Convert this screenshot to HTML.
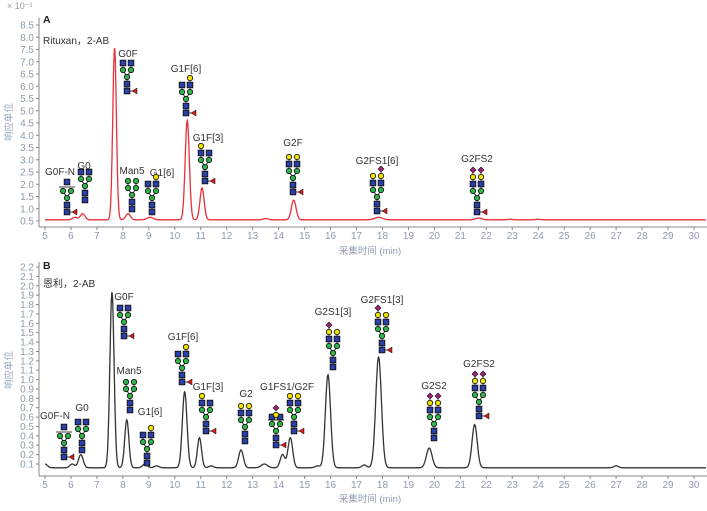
<!DOCTYPE html><html><head><meta charset="utf-8"><style>
body{margin:0;background:#fff;width:707px;height:511px;overflow:hidden}
svg{display:block;font-family:"Liberation Sans","Noto Sans CJK SC",sans-serif}
</style></head><body>
<svg id="s" width="707" height="511" xmlns="http://www.w3.org/2000/svg"></svg>
<script>
var S=document.getElementById('s'),h='';
function X(m){return 45+(m-5)*25.96;}
function txt(x,y,t,o){o=o||{};h+='<text x="'+x+'" y="'+y+'" font-size="'+(o.fs||9.5)+'" fill="'+(o.c||'#444')+'" text-anchor="'+(o.a||'middle')+'"'+(o.w?' font-weight="bold"':'')+(o.tr?' transform="'+o.tr+'"':'')+'>'+t+'</text>';}
function panel(top,bot,tvals,fmt,yOf,peaks,base,sig,col,xlabY){
 h+='<line x1="39" y1="'+top+'" x2="39" y2="'+bot+'" stroke="#888" stroke-width="1"/>';
 h+='<line x1="39" y1="'+bot+'" x2="707" y2="'+bot+'" stroke="#888" stroke-width="1"/>';
 tvals.forEach(function(v){var y=yOf(v);h+='<line x1="36" y1="'+y+'" x2="39" y2="'+y+'" stroke="#888"/>';txt(34,y+3.5,fmt(v),{a:'end',c:'#8d9bb0',fs:10});});
 for(var m=5;m<=30;m++){var x=X(m);h+='<line x1="'+x+'" y1="'+bot+'" x2="'+x+'" y2="'+(bot+3)+'" stroke="#888"/>';txt(x,bot+12,m,{c:'#8d9bb0',fs:10});}
 txt(370,xlabY,'采集时间 (min)',{c:'#8d9bb0',fs:9.5});
 var d='';for(var t=5;t<=31.3;t+=0.01){var v=base;peaks.forEach(function(p){var s=p[2]||sig;v+=(p[1]-base)*Math.exp(-Math.pow(t-p[0],2)/(2*s*s));});var x=X(t);if(x>706)break;d+=(d?'L':'M')+x.toFixed(1)+','+yOf(v).toFixed(1);}
 h+='<path d="'+d+'" fill="none" stroke="'+col+'" stroke-width="1.3"/>';
}
var yA=function(v){return 221-(v-0.5)*24.5;};
var ta=[];for(var v=0.5;v<=8.51;v+=0.5)ta.push(v);
panel(18,227,ta,function(v){return v.toFixed(1)},yA,[[6.15,0.65],[6.45,0.8],[7.68,7.55,0.07],[8.2,0.8],[9.05,0.65,0.12],[10.48,4.6,0.08],[11.05,1.85,0.08],[13.5,0.6],[14.58,1.35,0.09],[17.85,0.65,0.15],[21.7,0.62,0.12],[22.9,0.57],[24,0.57]],0.55,0.09,'#e8303a',254);
var yB=function(v){return 464-(v-0.1)*93.8;};
var tb=[];for(var i=1;i<=22;i++)tb.push(i/10);
panel(262,476,tb,function(v){return v.toFixed(1)},yB,[[5,0.1],[6.05,0.1],[6.38,0.2],[7.58,1.93,0.08],[8.15,0.57,0.08],[8.85,0.1],[9.3,0.08],[10.38,0.87,0.09],[10.95,0.38,0.08],[11.4,0.08],[12.55,0.25],[13.45,0.1,0.12],[14.15,0.2],[14.45,0.38],[15.5,0.08],[15.9,1.05,0.1],[17.3,0.09],[17.85,1.24,0.11],[19.8,0.27,0.11],[21.55,0.52,0.1],[27,0.08]],0.06,0.09,'#333',502);
txt(7,9,'× 10⁻¹',{a:'start',c:'#8d9bb0',fs:9});
txt(12,122,'响应单位',{c:'#9aa8bb',fs:9.5,tr:'rotate(-90 12 122)'});
txt(12,370,'响应单位',{c:'#9aa8bb',fs:9.5,tr:'rotate(-90 12 370)'});
txt(43,23,'A',{a:'start',w:1,fs:10.5,c:'#222'});txt(43,44,'Rituxan，2-AB',{a:'start',fs:10,c:'#333'});
txt(43,269,'B',{a:'start',w:1,fs:10.5,c:'#222'});txt(43,287,'恩利，2-AB',{a:'start',fs:10,c:'#333'});
function sq(x,y){h+='<rect x="'+(x-2.8)+'" y="'+(y-2.8)+'" width="5.6" height="5.6" fill="#2b3fa8" stroke="#111" stroke-width="0.9"/>';}
function ci(x,y,c){h+='<circle cx="'+x+'" cy="'+y+'" r="2.7" fill="'+c+'" stroke="#111" stroke-width="0.8"/>';}
function di(x,y){h+='<path d="M'+x+','+(y-3)+'L'+(x+3)+','+y+'L'+x+','+(y+3)+'L'+(x-3)+','+y+'Z" fill="#a0207a" stroke="#111" stroke-width="0.6"/>';}
function el(k,x,y){if(k=='s')sq(x,y);else if(k=='c')ci(x,y,'#2fb34a');else if(k=='y')ci(x,y,'#f2e200');else if(k=='p')di(x,y);}
var OFF=4;
function gly(x,y0,L,R,f,extra){
 h+='<line x1="'+x+'" y1="'+y0+'" x2="'+x+'" y2="'+(y0-14)+'" stroke="#111" stroke-width="0.8"/>';
 [[L,-OFF],[R,OFF]].forEach(function(a){if(!a[0].length)return;var xx=x+a[1];h+='<line x1="'+x+'" y1="'+(y0-14)+'" x2="'+xx+'" y2="'+(y0-21)+'" stroke="#111" stroke-width="0.8"/><line x1="'+xx+'" y1="'+(y0-21)+'" x2="'+xx+'" y2="'+(y0-14-7*a[0].length)+'" stroke="#111" stroke-width="0.8"/>';});
 if(f){h+='<line x1="'+x+'" y1="'+y0+'" x2="'+(x+7)+'" y2="'+y0+'" stroke="#111" stroke-width="0.8"/><path d="M'+(x+5)+','+y0+'L'+(x+10)+','+(y0-3)+'L'+(x+10)+','+(y0+3)+'Z" fill="#d01c1c" stroke="#111" stroke-width="0.5"/>';}
 sq(x,y0);sq(x,y0-7);ci(x,y0-14,'#2fb34a');
 [[L,-OFF],[R,OFF]].forEach(function(a){a[0].forEach(function(k,i){el(k,x+a[1],y0-21-7*i);});});
 if(extra){h+='<line x1="'+(x-8)+'" y1="'+(y0-25)+'" x2="'+(x+8)+'" y2="'+(y0-25)+'" stroke="#111" stroke-width="0.8"/>';extra.forEach(function(k,i){el(k,x,y0-30-7*i);});}
}
var C=['c','s'],CY=['c','s','y'],CYP=['c','s','y','p'],M=['c','c'];
[['G0F-N',60,175],['G0',84,169],['G0F',128,57],['Man5',132,174],['G1[6]',162,176],['G1F[6]',186,72],['G1F[3]',208,141],['G2F',293,146],['G2FS1[6]',377,164],['G2FS2',477,162]].forEach(function(l){txt(l[1],l[2],l[0],{fs:10,c:'#333'});});
gly(67,212,['c'],['c'],1,['s']);gly(85,200,C,C,0);gly(127,91,C,C,1);gly(132,209,M,M,0);gly(152,212,C,CY,0);gly(186,113,C,CY,1);gly(205,181,CY,C,1);gly(293,192,CY,CY,1);gly(377,211,CY,CYP,1);gly(477,212,CYP,CYP,1);
[['G0F-N',55,419],['G0',82,411],['G0F',124,300],['Man5',129,374],['G1[6]',150,415],['G1F[6]',183,340],['G1F[3]',208,390],['G2',246,397],['G1FS1/G2F',287,390],['G2S1[3]',333,315],['G2FS1[3]',382,303],['G2S2',434,389],['G2FS2',479,367]].forEach(function(l){txt(l[1],l[2],l[0],{fs:10,c:'#333'});});
gly(64,457,['c'],['c'],1,['s']);gly(82,450,C,C,0);gly(124,336,C,C,1);gly(130,410,M,M,0);gly(147,463,C,CY,0);gly(182,382,C,CY,1);gly(206,431,CY,C,1);gly(245,441,CY,CY,0);gly(276,445,C,C,1,['y','p']);gly(294,431,CY,CY,1);gly(333,367,CYP,CY,0);gly(382,350,CYP,CY,1);gly(434,438,CYP,CYP,0);gly(479,416,CYP,CYP,1);
S.innerHTML=h;
</script></body></html>
